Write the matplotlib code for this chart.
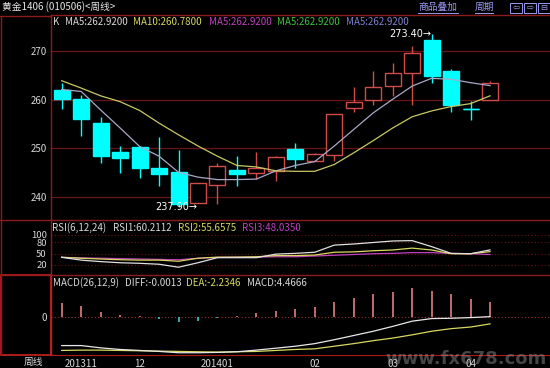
import numpy as np
import matplotlib
matplotlib.use("Agg")
import matplotlib.pyplot as plt
from matplotlib.patches import Rectangle
from matplotlib.lines import Line2D

plt.rcParams['font.family'] = ['Noto Sans CJK SC', 'DejaVu Sans']

# weekly candles, gold 1406
opens  = [261.9, 260.1, 255.3, 249.2, 250.3, 246.0, 245.2, 238.8, 242.5, 245.5, 245.0, 245.3,
          249.9, 247.5, 248.6, 258.4, 259.9, 262.9, 265.4, 272.3, 265.9, 258.0, 259.9]
highs  = [263.5, 261.0, 256.4, 250.5, 250.4, 252.3, 249.6, 243.0, 247.0, 248.4, 249.2, 248.4,
          251.2, 249.0, 257.0, 262.7, 265.9, 267.6, 271.0, 273.4, 266.4, 259.7, 263.8]
lows   = [258.1, 252.5, 247.0, 245.0, 243.9, 242.2, 237.9, 238.7, 238.5, 242.2, 243.7, 243.3,
          246.0, 247.5, 247.4, 257.5, 259.0, 260.8, 259.0, 263.4, 257.5, 255.8, 259.9]
closes = [260.2, 256.0, 248.5, 248.0, 245.9, 244.7, 238.6, 242.9, 246.3, 244.7, 246.0, 248.2,
          247.9, 248.8, 257.0, 259.6, 262.6, 265.5, 269.5, 264.9, 258.9, 258.0, 263.5]
ma5  = [262.1, 261.7, 257.9, 254.2, 250.4, 248.4, 245.1, 244.1, 243.6, 243.6, 243.7, 245.4,
        246.5, 247.3, 250.5, 253.9, 257.3, 260.1, 262.8, 264.4, 264.2, 263.5, 262.9]
ma10 = [263.9, 262.4, 260.8, 259.6, 257.8, 255.2, 252.8, 250.5, 248.4, 246.5, 246.2, 245.4,
        245.3, 245.3, 246.7, 249.1, 251.6, 254.2, 256.5, 257.7, 258.6, 259.2, 260.8]

# RSI(6,12,24)
rsi1 = [40.5, 33, 29, 26, 24.5, 22, 14, 26, 39.5, 39.5, 39.5, 49,
        51, 54, 73, 76, 80, 84, 85, 69, 51, 50, 60.2]
rsi2 = [40.5, 38, 36, 34, 33, 33, 30, 38, 41, 41, 42, 45,
        45, 46.5, 54, 55, 58, 60, 65, 60, 50, 50, 55.7]
rsi3 = [40.5, 39, 38, 37, 36, 35, 34, 38, 40, 41, 41, 42,
        42, 44, 46, 48, 50, 51, 53, 53, 51, 50, 48.0]

# MACD(26,12,9)
macd = [4.3, 3.2, 1.4, 0.5, 0.3, -0.8, -1.6, -1.3, -0.3, 0.1, 1.0, 1.6,
        2.3, 3.1, 4.4, 5.6, 6.9, 7.6, 8.7, 8.0, 6.9, 5.3, 4.47]
diff = [-8.9, -8.9, -9.6, -10.1, -10.4, -10.7, -11.1, -11.1, -11.0, -10.8, -10.3, -9.7,
        -9.1, -8.3, -7.1, -5.8, -4.5, -3.0, -1.4, -0.6, -0.5, -0.3, -0.0013]
dea  = [-10.4, -10.3, -10.3, -10.4, -10.5, -10.6, -10.7, -10.8, -10.9, -10.8, -10.7, -10.4,
        -10.1, -9.9, -9.1, -8.3, -7.4, -6.6, -5.6, -4.5, -3.7, -3.2, -2.2346]

xtick_pos = [1, 4, 8, 13, 17, 21]
xtick_labels = ['201311', '12', '201401', '02', '03', '04']

# colours
BG = 'black'
GRID = '#6a1515'
AXIS = '#8c1c1c'
UP = '#d24b4b'
DOWN = '#00ffff'
TXT = '#d8d8d8'
YEL = '#d8d860'
MAG = '#c040c0'

W, H = 550, 368
fig = plt.figure(figsize=(5.5, 3.68), dpi=100, facecolor=BG)


def fpos(x, y):
    return x / W, 1 - y / H


def ftext(x, y, s, color=TXT, size=7, **kw):
    fx, fy = fpos(x, y)
    fig.text(fx, fy, s, color=color, fontsize=size, va='center', **kw)


def make_ax(top, bottom):
    ax = fig.add_axes([51 / W, 1 - bottom / H, (W - 51) / W, (bottom - top) / H])
    ax.set_facecolor(BG)
    for s in ['right', 'bottom']:
        ax.spines[s].set_visible(False)
    for s in ['left', 'top']:
        ax.spines[s].set_color(AXIS)
        ax.spines[s].set_linewidth(1)
    ax.tick_params(axis='both', length=0, colors=TXT, labelsize=7, pad=3)
    ax.set_xticks([])
    ax.set_xlim(-0.55, 25.08)
    return ax


x = np.arange(len(opens))
o = np.array(opens)
c = np.array(closes)

# ---- price panel
ax1 = make_ax(15, 220)
ax1.set_ylim(235.3, 277.4)
ax1.set_yticks([240, 250, 260, 270])
for yv in [240, 250, 260, 270]:
    ax1.axhline(yv, color=GRID, lw=0.9, zorder=0)

up = c > o
body_lo = np.minimum(o, c)
body_hi = np.maximum(o, c)
edge = np.where(up, UP, DOWN)
face = np.where(up, BG, DOWN)
ax1.vlines(x, lows, body_lo, colors=edge, lw=1, zorder=2)
ax1.vlines(x, body_hi, highs, colors=edge, lw=1, zorder=2)
ax1.bar(x, body_hi - body_lo, bottom=body_lo, width=0.82, color=face,
        edgecolor=edge, linewidth=1, zorder=3)
doji = o == c
ax1.hlines(o[doji], x[doji] - 0.41, x[doji] + 0.41, colors=DOWN, lw=1, zorder=3)

ax1.plot(x, ma5, color='#a8a8c8', lw=0.9, zorder=4)
ax1.plot(x, ma10, color='#c8c864', lw=0.9, zorder=4)

i_hi = int(np.argmax(highs))
i_lo = int(np.argmin(lows))
ax1.text(i_hi, highs[i_hi], '%.2f\u2192' % highs[i_hi], color='white', fontsize=7,
         ha='right', va='center', family=['DejaVu Sans'])
ax1.text(i_lo + 0.95, lows[i_lo], '%.2f\u2192' % lows[i_lo], color='white', fontsize=7,
         ha='right', va='center', family=['DejaVu Sans'])

# ---- RSI panel
ax2 = make_ax(220, 275)
ax2.set_ylim(-6.7, 140)
ax2.set_yticks([20, 50, 80, 100])
ax2.tick_params(axis='y', labelsize=6.8)
for yv in [20, 50, 80, 100]:
    ax2.axhline(yv, color=GRID, lw=0.8, ls=(0, (1, 2)), zorder=0)
ax2.plot(x, rsi3, color=MAG, lw=0.9)
ax2.plot(x, rsi2, color=YEL, lw=0.9)
ax2.plot(x, rsi1, color='#e0e0e0', lw=0.9)

# ---- MACD panel
ax3 = make_ax(275, 355)
ax3.set_ylim(-11.8, 12.8)
ax3.set_yticks([0])
ax3.spines['bottom'].set_visible(True)
ax3.spines['bottom'].set_color('#b01818')
ax3.axhline(0, color='#a03030', lw=0.8, ls=(0, (1, 2)), zorder=0)
mc = np.array(macd)
ax3.vlines(x, 0, mc, colors=np.where(mc >= 0, '#e08080', '#40c8c8'), lw=1.2)
ax3.plot(x, dea, color=YEL, lw=0.9)
ax3.plot(x, diff, color='#e8e8e8', lw=0.9)
ax3.set_xticks(xtick_pos)
ax3.set_xticklabels(xtick_labels)
ax3.tick_params(axis='x', pad=3, labelsize=7)

# panel separators continue into the left label column
for yl in [15.5, 220, 275]:
    fig.add_artist(Line2D([0, 51 / W], [1 - yl / H, 1 - yl / H],
                          transform=fig.transFigure, color=AXIS, lw=1))
fig.add_artist(Line2D([0.5 / W, 0.5 / W], [1 - 355 / H, 1 - 15.5 / H],
                      transform=fig.transFigure, color=AXIS, lw=1))

# selected panel frame on the left
fig.add_artist(Rectangle(fpos(1, 355), 50 / W, 80 / H, transform=fig.transFigure,
                         fill=False, edgecolor='#d02020', lw=1.2))

# ---- header texts
ftext(2, 7, '黄金1406 (010506)<周线>', color='#e8e8e8', size=7)
ftext(418, 7, '商品叠加', color='#9a9af0', size=7)
ftext(475, 7, '周期', color='#9a9af0', size=7)
for x0, x1 in [(418, 458), (475, 493)]:
    fig.add_artist(Line2D([x0 / W, x1 / W], [1 - 12.5 / H, 1 - 12.5 / H],
                          transform=fig.transFigure, color='#9a9af0', lw=0.7))
for bx, sym in [(510, '\u21e6'), (524, '\u21e8'), (538, '\u229f')]:
    fig.add_artist(Rectangle(fpos(bx, 13), 12 / W, 10 / H, transform=fig.transFigure,
                             fill=False, edgecolor='#9a9af0', lw=0.7))
    ftext(bx + 6, 8, sym, color='#9a9af0', size=6, ha='center', family=['DejaVu Sans'])

ftext(53, 22, 'K', color=TXT)
ftext(65, 22, 'MA5:262.9200', color=TXT)
ftext(133, 22, 'MA10:260.7800', color=YEL)
ftext(209, 22, 'MA5:262.9200', color=MAG)
ftext(277, 22, 'MA5:262.9200', color='#40c040')
ftext(346, 22, 'MA5:262.9200', color='#8080d0')

ftext(52, 228, 'RSI(6,12,24)', color=TXT)
ftext(113, 228, 'RSI1:60.2112', color=TXT)
ftext(178, 228, 'RSI2:55.6575', color=YEL)
ftext(242, 228, 'RSI3:48.0350', color=MAG)

ftext(53, 283, 'MACD(26,12,9)', color=TXT)
ftext(125, 283, 'DIFF:-0.0013', color=TXT)
ftext(186, 283, 'DEA:-2.2346', color=YEL)
ftext(247, 283, 'MACD:4.4666', color=TXT)

ftext(33, 362, '周线', color=TXT, ha='center')

# watermark (sits over the date labels, as in the source screenshot)
ftext(466, 359, 'www.fx678.com', color='#9a9a9a', size=13, ha='center',
      weight='bold', alpha=0.45, family=['DejaVu Sans'])

fig.savefig('out.png', dpi=100, facecolor=BG)
